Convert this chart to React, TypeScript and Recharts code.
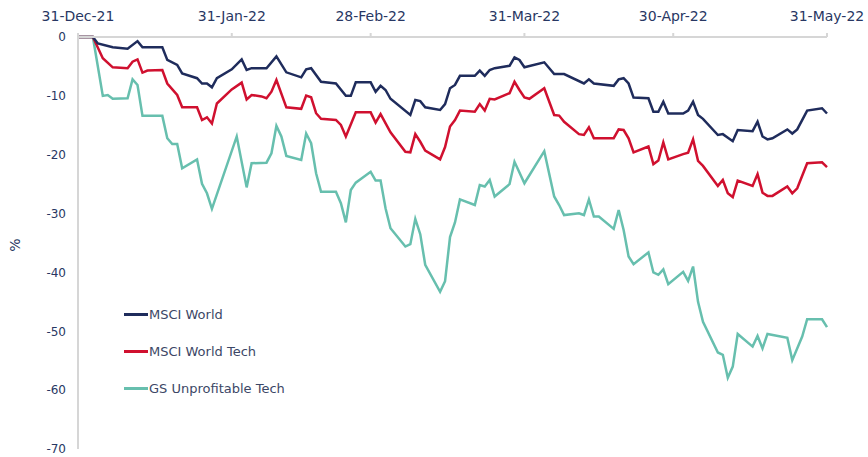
import { LineChart, Line, XAxis, YAxis, Label } from "recharts";

// x = days since 31-Dec-21, y = % change
const TICK_DAYS = [0, 31, 59, 90, 120, 151];
const TICK_LABELS = ["31-Dec-21", "31-Jan-22", "28-Feb-22", "31-Mar-22", "30-Apr-22", "31-May-22"];
const Y_TICKS = [0, -10, -20, -30, -40, -50, -60, -70];

const msciWorld = [
  [0, 0], [3, 0], [4, -1.1], [7, -1.75], [10, -2.0], [12, -0.7], [13, -1.75], [17, -1.75],
  [18, -3.9], [20, -4.75], [21, -6.2], [24, -7.0], [25, -7.9], [26, -7.9], [27, -8.55], [28, -7.0],
  [31, -5.5], [33, -3.8], [34, -5.6], [35, -5.3], [38, -5.3], [40, -3.3], [42, -6.0], [45, -6.85],
  [46, -5.5], [47, -5.3], [49, -7.6], [52, -7.9], [54, -10.0], [55, -10.0], [56, -7.7], [59, -7.7],
  [60, -9.3], [61, -8.3], [62, -9.0], [63, -10.5], [67, -13.25], [68, -10.7], [69, -10.9], [70, -11.95],
  [73, -12.4], [74, -11.4], [75, -8.7], [76, -8.15], [77, -6.6], [80, -6.6], [81, -5.7], [82, -6.6],
  [83, -5.6], [84, -5.3], [87, -4.9], [88, -3.45], [89, -3.9], [90, -5.15], [94, -4.3], [96, -6.3],
  [98, -6.3], [102, -7.9], [103, -7.2], [104, -7.9], [108, -8.3], [109, -7.2], [110, -7.0], [111, -7.9],
  [112, -10.3], [115, -10.4], [116, -12.7], [117, -12.7], [118, -11.0], [119, -13.0], [122, -13.0], [123, -12.5],
  [124, -11.0], [125, -13.25], [126, -13.9], [129, -16.65], [130, -16.5], [132, -17.7], [133, -15.8], [136, -16.0],
  [137, -14.4], [138, -16.9], [139, -17.4], [140, -17.2], [143, -15.7], [144, -16.4], [145, -15.7], [147, -12.5],
  [150, -12.1], [151, -13.0],
];

const msciWorldTech = [
  [0, 0], [3, 0], [5, -3.6], [7, -5.15], [10, -5.3], [11, -4.2], [12, -3.8], [13, -6.05], [14, -5.7],
  [17, -5.6], [18, -7.9], [20, -9.85], [21, -11.95], [24, -11.95], [25, -14.1], [26, -13.65], [27, -14.7],
  [28, -11.3], [31, -8.9], [33, -7.75], [34, -10.6], [35, -9.85], [37, -10.1], [38, -10.4], [39, -9.3],
  [40, -7.3], [42, -11.95], [45, -12.2], [46, -9.95], [47, -10.25], [48, -12.95], [49, -13.9], [52, -14.1],
  [53, -14.95], [54, -16.9], [56, -12.8], [59, -12.8], [60, -14.55], [61, -13.1], [63, -16.2], [66, -19.5],
  [67, -19.6], [68, -16.5], [69, -17.8], [70, -19.3], [73, -20.8], [74, -18.7], [75, -15.2], [76, -14.1],
  [77, -12.5], [80, -12.7], [81, -11.4], [82, -12.5], [83, -10.5], [84, -10.6], [87, -9.55], [88, -7.6],
  [89, -9.0], [90, -10.25], [91, -10.5], [94, -8.7], [96, -13.25], [97, -13.35], [98, -14.4], [101, -16.5],
  [102, -16.65], [103, -15.35], [104, -17.2], [108, -17.2], [109, -15.7], [110, -15.8], [111, -17.2], [112, -19.6],
  [115, -18.6], [116, -21.6], [117, -21.0], [118, -17.9], [119, -20.8], [122, -19.9], [123, -19.65], [124, -17.4],
  [125, -21.05], [126, -21.9], [129, -25.3], [130, -24.3], [131, -26.55], [132, -27.2], [133, -24.4], [136, -25.3],
  [137, -23.3], [138, -26.45], [139, -27.0], [140, -27.0], [143, -25.4], [144, -26.55], [145, -25.7], [147, -21.45],
  [150, -21.3], [151, -22.1],
];

const gsUnprofitableTech = [
  [0, 0], [3, 0], [5, -10.0], [6, -9.85], [7, -10.5], [10, -10.4], [11, -7.2], [12, -8.15], [13, -13.4],
  [17, -13.4], [18, -17.2], [19, -18.2], [20, -18.2], [21, -22.3], [24, -20.8], [25, -24.95], [26, -26.55],
  [27, -29.2], [32, -16.9], [34, -25.55], [35, -21.45], [38, -21.35], [39, -19.75], [40, -15.1], [41, -16.9],
  [42, -20.2], [45, -20.9], [46, -16.4], [47, -18.05], [48, -23.15], [49, -26.3], [52, -26.3], [53, -28.25],
  [54, -31.5], [55, -26.0], [56, -24.75], [59, -22.9], [60, -24.4], [61, -24.4], [62, -29.1], [63, -32.5],
  [66, -35.6], [67, -35.2], [68, -30.9], [69, -33.5], [70, -38.7], [73, -43.3], [74, -41.5], [75, -34.0],
  [76, -31.5], [77, -27.6], [80, -28.55], [81, -25.15], [82, -25.4], [83, -24.3], [84, -27.1], [87, -25.0],
  [88, -21.2], [90, -24.85], [94, -19.4], [96, -27.1], [97, -28.55], [98, -30.25], [101, -29.95], [102, -30.25],
  [103, -27.6], [104, -30.5], [105, -30.5], [108, -32.6], [109, -29.4], [110, -32.8], [111, -37.3], [112, -38.6],
  [115, -36.6], [116, -40.0], [117, -40.4], [118, -39.5], [119, -42.0], [122, -39.9], [123, -41.45], [124, -39.0],
  [125, -45.0], [126, -48.4], [129, -53.6], [130, -54.0], [131, -57.9], [132, -56.0], [133, -50.45], [136, -52.6],
  [137, -50.8], [138, -52.9], [139, -50.45], [143, -51.1], [144, -54.9], [146, -50.9], [147, -47.95], [150, -47.95],
  [151, -49.3],
];

const NAVY = "#1f2c5c";
const RED = "#d0102f";
const TEAL = "#67bfae";
const AXIS = "#d6d6d6";
const TEXT = "#283763";
const FONT = "'DejaVu Sans', sans-serif";

const SERIES = [
  { name: "MSCI World", color: NAVY, points: msciWorld },
  { name: "MSCI World Tech", color: RED, points: msciWorldTech },
  { name: "GS Unprofitable Tech", color: TEAL, points: gsUnprofitableTech },
];

const toRows = (pts: number[][]) => pts.map(([day, v]) => ({ day, v }));

export default function App() {
  return (
    <div style={{ position: "absolute", left: 0, top: 0, width: 868, height: 457, background: "#fff" }}>
      <LineChart width={868} height={457} margin={{ top: 0, right: 41, bottom: 8, left: 0 }}>
        <XAxis
          type="number"
          dataKey="day"
          orientation="top"
          height={37}
          domain={[0, 151]}
          ticks={TICK_DAYS}
          tickFormatter={(d) => TICK_LABELS[TICK_DAYS.indexOf(d)]}
          interval={0}
          stroke={AXIS}
          strokeWidth={2}
          tickSize={4}
          tickMargin={12}
          tick={{ fill: TEXT, fontSize: 14, fontFamily: FONT }}
        />
        <YAxis
          type="number"
          width={78}
          domain={[-70, 0]}
          ticks={Y_TICKS}
          interval={0}
          stroke={AXIS}
          strokeWidth={2}
          tickLine={false}
          tickSize={0}
          tickMargin={12}
          tick={{ fill: TEXT, fontSize: 12, fontFamily: FONT }}
        >
          <Label
            content={() => (
              <text
                x={15}
                y={245}
                transform="rotate(-90 15 245)"
                textAnchor="middle"
                dominantBaseline="central"
                fill={TEXT}
                fontSize={14}
                fontFamily={FONT}
              >
                %
              </text>
            )}
          />
        </YAxis>
        {SERIES.slice().reverse().map((s) => (
          <Line
            key={s.name}
            name={s.name}
            data={toRows(s.points)}
            dataKey="v"
            type="linear"
            stroke={s.color}
            strokeWidth={2.5}
            dot={false}
            activeDot={false}
            isAnimationActive={false}
          />
        ))}
      </LineChart>
      {/* legend sits inside the plot, lower left */}
      <div style={{ position: "absolute", left: 124, top: 296, fontFamily: FONT, fontSize: 13, color: "#3c4766" }}>
        {SERIES.map((s) => (
          <div key={s.name} style={{ display: "flex", alignItems: "center", height: 37 }}>
            <span style={{ display: "inline-block", width: 24, height: 3, background: s.color, marginRight: 1 }} />
            <span>{s.name}</span>
          </div>
        ))}
      </div>
    </div>
  );
}
